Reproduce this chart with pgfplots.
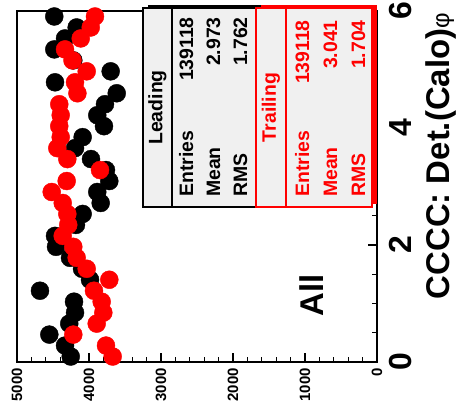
\documentclass[border=0pt]{standalone}
\usepackage{fontspec}
\setmainfont{Liberation Sans}
\usepackage{pgfplots}
\usepackage{pgfplotstable}
\pgfplotsset{compat=1.18}
\definecolor{statfill}{gray}{0.94}
\definecolor{rootred}{rgb}{1,0,0}

% phi bin centres (32 bins on [0,6]) with entries for leading and trailing objects
\pgfplotstableread{
phi lead trail
0.09375 4254 3671
0.28125 4333 3764
0.46875 4551 4218
0.65625 4274 3893
0.84375 4194 3801
1.03125 4208 3824
1.21875 4681 3931
1.40625 3986 3718
1.59375 4097 4032
1.78125 4264 4171
1.96875 4458 4218
2.15625 4472 4365
2.34375 4181 4288
2.53125 4088 4301
2.71875 3838 4365
2.90625 3885 4518
3.09375 3718 4310
3.28125 3764 3847
3.46875 3972 4301
3.65625 4194 4440
3.84375 4088 4393
4.03125 3792 4413
4.21875 3885 4393
4.40625 3778 4413
4.59375 3615 4161
4.78125 4472 4194
4.96875 3699 4032
5.15625 4218 4229
5.34375 4482 4333
5.53125 4333 4115
5.71875 4171 3976
5.90625 4482 3917
}\phidata

\newcommand\statfont{\fontsize{19.5}{19.5}\selectfont\bfseries}

\begin{document}
\begin{tikzpicture}
\begin{axis}[
  scale only axis, width=360bp, height=351bp,
  x dir=reverse, xmin=0, xmax=5000, ymin=0, ymax=6,
  axis line style={line width=1.6bp},
  tick style={line width=1.2bp, black},
  tick align=inside,
  major tick length=9bp, minor tick length=5bp,
  xtick={0,1000,...,5000}, minor x tick num=4,
  ytick={0,2,4,6}, minor y tick num=3,
  xtick pos=bottom, ytick pos=right, yticklabel pos=right,
  scaled x ticks=false,
  /pgf/number format/assume math mode=true,
  /pgf/number format/1000 sep={},
  xticklabel style={font=\fontsize{15}{15}\selectfont\bfseries, rotate=90, anchor=east, inner xsep=6bp, inner ysep=0pt},
  yticklabel style={font=\fontsize{32}{32}\selectfont\bfseries, rotate=90, anchor=north, inner ysep=12bp, inner xsep=0pt},
  clip=false,
]
\addplot[only marks, mark=*, mark size=9bp, draw=black, fill=black] table[x=lead, y=phi] {\phidata};
\addplot[only marks, mark=*, mark size=9bp, draw=rootred, fill=rootred] table[x=trail, y=phi] {\phidata};
\end{axis}

\begin{scope}[x=1bp, y=-1bp, shift={(-17bp,362bp)}]
  % statistics box: leading
  \fill[black] (148,5) rectangle (261,204);
  \filldraw[fill=statfill, draw=black, line width=1.3bp] (143,8) rectangle (256,207);
  \draw[black, line width=1.3bp] (172,8) -- (172,207);
  \begin{scope}[font=\statfont, black]
    \node[rotate=90, inner sep=0] at (157.5,107.5) {Leading};
    \node[rotate=90, anchor=base west, inner sep=0] at (193,197) {Entries};
    \node[rotate=90, anchor=base west, inner sep=0] at (220,197) {Mean};
    \node[rotate=90, anchor=base west, inner sep=0] at (247,197) {RMS};
    \node[rotate=90, anchor=base east, inner sep=0] at (193,17) {139118};
    \node[rotate=90, anchor=base east, inner sep=0] at (220,17) {2.973};
    \node[rotate=90, anchor=base east, inner sep=0] at (247,17) {1.762};
  \end{scope}
  % statistics box: trailing
  \fill[rootred] (261,5) rectangle (377,204);
  \filldraw[fill=statfill, draw=rootred, line width=1.3bp] (256,8) rectangle (372,207);
  \draw[rootred, line width=1.3bp] (286,8) -- (286,207);
  \begin{scope}[font=\statfont, rootred]
    \node[rotate=90, inner sep=0] at (271,107.5) {Trailing};
    \node[rotate=90, anchor=base west, inner sep=0] at (309,197) {Entries};
    \node[rotate=90, anchor=base west, inner sep=0] at (337,197) {Mean};
    \node[rotate=90, anchor=base west, inner sep=0] at (365,197) {RMS};
    \node[rotate=90, anchor=base east, inner sep=0] at (309,20) {139118};
    \node[rotate=90, anchor=base east, inner sep=0] at (337,20) {3.041};
    \node[rotate=90, anchor=base east, inner sep=0] at (365,20) {1.704};
  \end{scope}
  % axis title and sample label
  \node[rotate=90, anchor=base east, inner sep=0, font=\fontsize{33}{33}\selectfont\bfseries]
    at (449,13) {CCCC: Det.(Calo){\mdseries\fontsize{24}{24}\selectfont φ}};
  \node[rotate=90, inner sep=0, font=\fontsize{33}{33}\selectfont\bfseries] at (312,295) {All};
  \pgfresetboundingbox
  \path[use as bounding box] (0,0) rectangle (457,414);
\end{scope}
\end{tikzpicture}
\end{document}
